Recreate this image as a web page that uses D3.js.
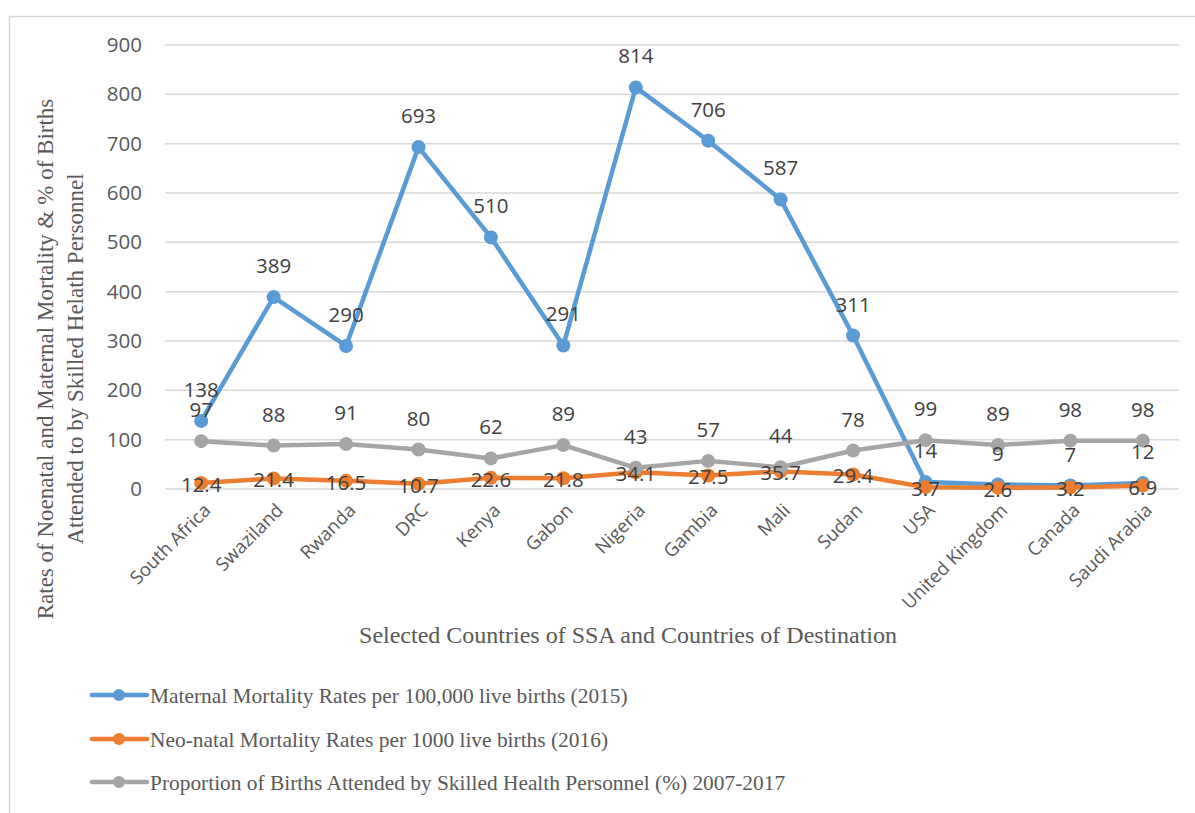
<!DOCTYPE html>
<html>
<head>
<meta charset="utf-8">
<script src="https://cdn.jsdelivr.net/npm/d3@7"></script>
<style>
  body { margin: 0; background: #fff; }
  svg { display: block; }
</style>
</head>
<body>
<div id="chart"></div>
<script>
const countries = ["South Africa", "Swaziland", "Rwanda", "DRC", "Kenya", "Gabon", "Nigeria",
    "Gambia", "Mali", "Sudan", "USA", "United Kingdom", "Canada", "Saudi Arabia"];
const maternal = [138, 389, 290, 693, 510, 291, 814, 706, 587, 311, 14, 9, 7, 12];
const neonatal = [12.4, 21.4, 16.5, 10.7, 22.6, 21.8, 34.1, 27.5, 35.7, 29.4, 3.7, 2.6, 3.2, 6.9];
const skilled = [97, 88, 91, 80, 62, 89, 43, 57, 44, 78, 99, 89, 98, 98];
const yTicks = [0, 100, 200, 300, 400, 500, 600, 700, 800, 900];
const seriesNames = [
    "Maternal Mortality Rates per 100,000 live births (2015)",
    "Neo-natal Mortality Rates per 1000 live births (2016)",
    "Proportion of Births Attended by Skilled Health Personnel (%) 2007-2017"
];

const W = 1195, H = 813;
const margin = {top: 45, right: 16, bottom: 324, left: 165};
const width = W - margin.left - margin.right;
const height = H - margin.top - margin.bottom;

const svg = d3.select("#chart").append("svg")
    .attr("width", W)
    .attr("height", H);

// chart area border
svg.append("rect")
    .attr("x", 9.5).attr("y", 16.5)
    .attr("width", W + 20).attr("height", H + 20)
    .attr("fill", "none").attr("stroke", "#d9d9d9").attr("stroke-width", 1.5);

const g = svg.append("g")
    .attr("transform", "translate(" + margin.left + "," + margin.top + ")");

const xScale = d3.scaleBand().domain(countries).range([0, width]);
const yScale = d3.scaleLinear().domain([0, 900]).range([height, 0]);
const xPos = (i) => xScale(countries[i]) + xScale.bandwidth() / 2;

// gridlines
g.append("g").selectAll("line")
    .data(yTicks)
    .join("line")
    .attr("x1", 0).attr("x2", width)
    .attr("y1", d => yScale(d)).attr("y2", d => yScale(d))
    .attr("stroke", "#d9d9d9").attr("stroke-width", 1.5);

// y axis
const yAxisG = g.append("g")
    .call(d3.axisLeft(yScale).tickValues(yTicks).tickSize(0).tickPadding(23));
yAxisG.select(".domain").remove();
yAxisG.selectAll("text")
    .attr("font-family", "'Open Sans', sans-serif")
    .attr("font-size", 20.5)
    .attr("fill", "#595959");

// x axis
const xAxisG = g.append("g")
    .attr("transform", "translate(0," + height + ")")
    .call(d3.axisBottom(xScale).tickSize(0).tickPadding(0));
xAxisG.select(".domain").remove();
xAxisG.selectAll("text")
    .attr("font-family", "'Open Sans', sans-serif")
    .attr("font-size", 18.5)
    .attr("fill", "#595959")
    .attr("text-anchor", "end")
    .attr("dy", "0.35em")
    .attr("transform", "translate(6,18) rotate(-45)");

const series = [
    {values: maternal, color: "#5B9BD5"},
    {values: neonatal, color: "#ED7D31"},
    {values: skilled, color: "#A5A5A5"}
];

const line = d3.line()
    .x((d, i) => xPos(i))
    .y(d => yScale(d));

series.forEach(s => {
    g.append("path")
        .datum(s.values)
        .attr("d", line)
        .attr("fill", "none")
        .attr("stroke", s.color)
        .attr("stroke-width", 4.5)
        .attr("stroke-linejoin", "round")
        .attr("stroke-linecap", "round");
    g.append("g").selectAll("circle")
        .data(s.values)
        .join("circle")
        .attr("cx", (d, i) => xPos(i))
        .attr("cy", d => yScale(d))
        .attr("r", 7)
        .attr("fill", s.color);
});

// data labels
const labelG = g.append("g")
    .attr("font-family", "'Open Sans', sans-serif")
    .attr("font-size", 20.5)
    .attr("fill", "#404040")
    .attr("text-anchor", "middle");

labelG.selectAll(".lblM")
    .data(maternal)
    .join("text")
    .attr("class", "lblM")
    .attr("x", (d, i) => xPos(i))
    .attr("y", d => yScale(d) - 24)
    .text(d => d);

labelG.selectAll(".lblN")
    .data(neonatal)
    .join("text")
    .attr("class", "lblN")
    .attr("x", (d, i) => xPos(i))
    .attr("y", d => yScale(d) + 9)
    .text(d => d);

labelG.selectAll(".lblS")
    .data(skilled)
    .join("text")
    .attr("class", "lblS")
    .attr("x", (d, i) => xPos(i))
    .attr("y", d => yScale(d) - 24)
    .text(d => d);

// axis titles
const serif = "'Liberation Serif', 'Times New Roman', serif";
svg.append("text")
    .attr("x", 628).attr("y", 643)
    .attr("text-anchor", "middle")
    .attr("font-family", serif).attr("font-size", 24)
    .attr("fill", "#595959")
    .text("Selected Countries of SSA and Countries of Destination");

const yTitle = svg.append("text")
    .attr("transform", "translate(0,359) rotate(-90)")
    .attr("text-anchor", "middle")
    .attr("font-family", serif).attr("font-size", 23)
    .attr("fill", "#595959");
yTitle.append("tspan").attr("x", 0).attr("y", 53)
    .text("Rates of Noenatal and Maternal Mortality & % of Births");
yTitle.append("tspan").attr("x", 0).attr("y", 83)
    .text("Attended to by Skilled Helath Personnel");

// legend
const legendY = [695, 739, 782];
const legend = svg.append("g");
series.forEach((s, i) => {
    const lg = legend.append("g").attr("transform", "translate(92," + legendY[i] + ")");
    lg.append("line")
        .attr("x1", 0).attr("x2", 55)
        .attr("stroke", s.color).attr("stroke-width", 4.5)
        .attr("stroke-linecap", "round");
    lg.append("circle").attr("cx", 27).attr("r", 6).attr("fill", s.color);
    lg.append("text")
        .attr("x", 58).attr("dy", "0.35em")
        .attr("font-family", serif).attr("font-size", 21.4)
        .attr("fill", "#595959")
        .text(seriesNames[i]);
});
</script>
</body>
</html>
